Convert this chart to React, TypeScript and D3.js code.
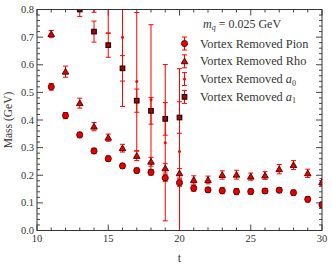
import React from 'react';
import * as d3 from 'd3';

// time slices
const tMeson = [11, 12, 13, 14, 15, 16, 17, 18, 19, 20, 21, 22, 23, 24, 25, 26, 27, 28, 29, 30];
const pionMass = [0.52, 0.416, 0.346, 0.288, 0.26, 0.234, 0.217, 0.211, 0.19, 0.173, 0.153, 0.147, 0.144, 0.141, 0.141, 0.143, 0.146, 0.137, 0.113, 0.093];
const pionErr = [0.012, 0.011, 0.01, 0.01, 0.01, 0.009, 0.009, 0.01, 0.012, 0.013, 0.011, 0.009, 0.011, 0.011, 0.01, 0.009, 0.009, 0.009, 0.01, 0.01];
const rhoMass = [0.711, 0.575, 0.461, 0.376, 0.336, 0.298, 0.27, 0.249, 0.225, 0.207, 0.183, 0.183, 0.201, 0.202, 0.195, 0.199, 0.222, 0.237, 0.207, 0.175];
const rhoErr = [0.013, 0.02, 0.018, 0.015, 0.013, 0.014, 0.017, 0.016, 0.017, 0.017, 0.015, 0.014, 0.015, 0.016, 0.013, 0.014, 0.017, 0.016, 0.015, 0.013];

const tA0 = [14, 15, 16, 17, 18, 19, 20];
const a0Mass = [1.0, 0.95, 0.7, 0.539, 0.473, 0.318, 0.286];
const a0Err = [0.21, 0.236, 0.251, 0.25, 0.272, 0.283, 0.3];

const tA1 = [13, 14, 15, 16, 17, 18, 19, 20];
const a1Mass = [0.8, 0.72, 0.671, 0.587, 0.47, 0.433, 0.404, 0.409];
const a1Err = [0.025, 0.038, 0.044, 0.046, 0.042, 0.048, 0.059, 0.057];

const xTicks = [10, 15, 20, 25, 30];
const yTicks = [0, 0.1, 0.2, 0.3, 0.4, 0.5, 0.6, 0.7, 0.8];
const legendLabels = ['Vortex Removed Pion', 'Vortex Removed Rho', 'Vortex Removed ', 'Vortex Removed '];

const W = 332, H = 269;
const L = 37, R = 322, T = 9.5, B = 230.5;
const FONT = '"Liberation Serif", "Times New Roman", serif';
const RED = '#ff0000';
const FILL = '#e60000';
const EDGE = '#3a0000';

type Kind = 'circle' | 'tri' | 'dot' | 'square';

function Marker({ kind, x, y }: { kind: Kind; x: number; y: number }) {
  if (kind === 'circle') return <circle cx={x} cy={y} r={3.1} fill={FILL} stroke={EDGE} strokeWidth={0.8} />;
  if (kind === 'dot') return <circle cx={x} cy={y} r={1.5} fill={RED} />;
  if (kind === 'tri') {
    const s = 3.3;
    return <path d={`M${x},${y - s}L${x + s},${y + s * 0.75}L${x - s},${y + s * 0.75}Z`} fill={FILL} stroke={EDGE} strokeWidth={0.9} />;
  }
  return <rect x={x - 2.3} y={y - 2.3} width={4.6} height={4.6} fill="#b00000" stroke="#1a0000" strokeWidth={1.1} />;
}

function ErrBar({ x, y1, y2 }: { x: number; y1: number; y2: number }) {
  return (
    <g stroke={RED} strokeWidth={1} fill="none">
      <line x1={x} x2={x} y1={y1} y2={y2} />
      <line x1={x - 2.5} x2={x + 2.5} y1={y1} y2={y1} />
      <line x1={x - 2.5} x2={x + 2.5} y1={y2} y2={y2} />
    </g>
  );
}

export default function App() {
  const x = d3.scaleLinear().domain([10, 30]).range([L, R]);
  const y = d3.scaleLinear().domain([0, 0.8]).range([B, T]);

  const series: { t: number[]; v: number[]; e: number[]; kind: Kind }[] = [
    { t: tA0, v: a0Mass, e: a0Err, kind: 'dot' },
    { t: tA1, v: a1Mass, e: a1Err, kind: 'square' },
    { t: tMeson, v: rhoMass, e: rhoErr, kind: 'tri' },
    { t: tMeson, v: pionMass, e: pionErr, kind: 'circle' },
  ];

  const xMinor = d3.range(10, 31, 1);
  const yMinor = d3.range(0, 0.801, 0.02);
  const legendKinds: Kind[] = ['circle', 'tri', 'dot', 'square'];

  return (
    <svg width={W} height={H} style={{ position: 'absolute', left: 0, top: 0, background: '#fff' }} fontFamily={FONT}>
      <defs>
        <clipPath id="plot">
          <rect x={L} y={T} width={R - L} height={B - T} />
        </clipPath>
      </defs>

      {/* ticks, inward on all four sides */}
      <g stroke="#444" strokeWidth={1}>
        {xMinor.map((t) => {
          const len = t % 5 === 0 ? 6 : 3;
          return (
            <g key={'xt' + t}>
              <line x1={x(t)} x2={x(t)} y1={B} y2={B - len} />
              <line x1={x(t)} x2={x(t)} y1={T} y2={T + len} />
            </g>
          );
        })}
        {yMinor.map((v, i) => {
          const len = i % 5 === 0 ? 6 : 3;
          return (
            <g key={'yt' + i}>
              <line x1={L} x2={L + len} y1={y(v)} y2={y(v)} />
              <line x1={R} x2={R - len} y1={y(v)} y2={y(v)} />
            </g>
          );
        })}
      </g>

      {/* data */}
      <g clipPath="url(#plot)">
        {series.map((s, si) => (
          <g key={si}>
            {s.t.map((t, i) => (
              <ErrBar key={'e' + i} x={x(t)} y1={y(s.v[i] + s.e[i])} y2={y(s.v[i] - s.e[i])} />
            ))}
            {s.t.map((t, i) => (
              <Marker key={'m' + i} kind={s.kind} x={x(t)} y={y(s.v[i])} />
            ))}
          </g>
        ))}
      </g>

      <rect x={L} y={T} width={R - L} height={B - T} fill="none" stroke="#333" strokeWidth={1} />

      {/* tick labels */}
      <g fontSize={10.5} fill="#333">
        {xTicks.map((t) => (
          <text key={t} x={x(t)} y={242} textAnchor="middle">{t}</text>
        ))}
        {yTicks.map((v) => (
          <text key={v} x={34} y={y(v) + 3.6} textAnchor="end">{v.toFixed(1)}</text>
        ))}
      </g>

      <text x={(L + R) / 2} y={262} textAnchor="middle" fontSize={12} fill="#333">t</text>
      <text transform={`translate(12,${(T + B) / 2}) rotate(-90)`} textAnchor="middle" fontSize={11.5} fill="#333">Mass (GeV)</text>

      {/* legend */}
      <text x={203} y={27.5} fontSize={12} fill="#333">
        <tspan fontStyle="italic">m</tspan>
        <tspan fontStyle="italic" fontSize={8} dy={2.5}>q</tspan>
        <tspan dy={-2.5}> = 0.025 GeV</tspan>
      </text>
      {legendLabels.map((lab, i) => {
        const ly = 43.5 + i * 17.8;
        return (
          <g key={i}>
            <ErrBar x={184.5} y1={ly - 6.5} y2={ly + 6.5} />
            <Marker kind={legendKinds[i]} x={184.5} y={ly} />
            <text x={200} y={ly + 4} fontSize={12.3} fill="#333">
              {lab}
              {i === 2 && (<><tspan fontStyle="italic">a</tspan><tspan fontSize={8} dy={2.5}>0</tspan></>)}
              {i === 3 && (<><tspan fontStyle="italic">a</tspan><tspan fontSize={8} dy={2.5}>1</tspan></>)}
            </text>
          </g>
        );
      })}
    </svg>
  );
}
